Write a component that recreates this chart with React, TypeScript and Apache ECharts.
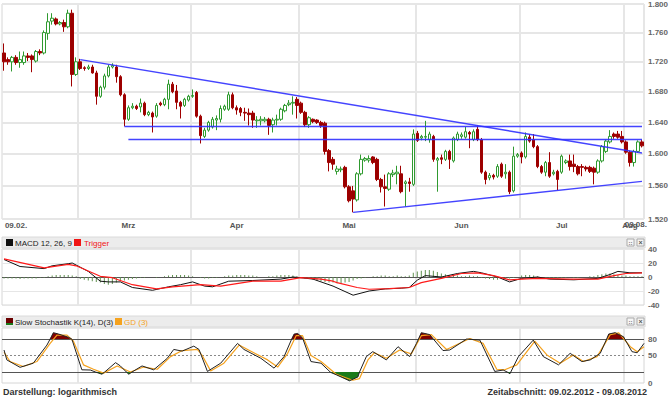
import React, { useEffect, useRef } from 'react';
import * as echarts from 'echarts';

// [open, close, low, high] per trading day, 09.02.2012 – 08.08.2012
const ohlc: number[][] = [
  [1.732,1.720,1.708,1.745],[1.723,1.720,1.716,1.726],[1.720,1.726,1.707,1.728],[1.726,1.719,1.716,1.729],
  [1.719,1.723,1.712,1.734],[1.719,1.728,1.716,1.734],[1.728,1.726,1.721,1.732],[1.728,1.723,1.706,1.730],
  [1.721,1.734,1.719,1.736],[1.734,1.732,1.729,1.737],[1.732,1.760,1.730,1.763],[1.759,1.775,1.750,1.787],
  [1.776,1.780,1.771,1.787],[1.779,1.772,1.770,1.781],[1.772,1.774,1.770,1.776],[1.774,1.768,1.761,1.778],
  [1.768,1.787,1.766,1.792],[1.787,1.703,1.687,1.792],[1.703,1.720,1.701,1.726],[1.720,1.711,1.709,1.724],
  [1.712,1.711,1.708,1.714],[1.711,1.713,1.709,1.716],[1.713,1.705,1.704,1.716],[1.705,1.674,1.663,1.708],
  [1.674,1.686,1.672,1.688],[1.686,1.701,1.683,1.704],[1.701,1.713,1.699,1.716],[1.713,1.715,1.711,1.718],
  [1.713,1.700,1.692,1.716],[1.700,1.676,1.674,1.702],[1.676,1.644,1.635,1.678],[1.644,1.659,1.642,1.662],
  [1.659,1.661,1.657,1.665],[1.661,1.658,1.656,1.663],[1.660,1.665,1.653,1.671],[1.665,1.650,1.648,1.667],
  [1.650,1.653,1.648,1.655],[1.652,1.647,1.627,1.654],[1.648,1.662,1.646,1.665],[1.665,1.663,1.661,1.667],
  [1.663,1.670,1.661,1.672],[1.670,1.690,1.657,1.696],[1.690,1.680,1.678,1.693],[1.681,1.666,1.657,1.689],
  [1.666,1.661,1.645,1.668],[1.662,1.670,1.660,1.672],[1.669,1.674,1.667,1.676],[1.674,1.675,1.672,1.683],
  [1.679,1.648,1.646,1.681],[1.648,1.623,1.613,1.650],[1.622,1.630,1.620,1.633],[1.630,1.640,1.628,1.642],
  [1.634,1.644,1.632,1.647],[1.643,1.645,1.630,1.649],[1.644,1.658,1.640,1.662],[1.657,1.661,1.655,1.663],
  [1.657,1.676,1.655,1.680],[1.676,1.659,1.657,1.679],[1.659,1.656,1.650,1.662],[1.658,1.653,1.648,1.660],
  [1.653,1.652,1.642,1.659],[1.652,1.650,1.636,1.658],[1.652,1.643,1.633,1.655],[1.642,1.643,1.633,1.648],
  [1.642,1.644,1.636,1.648],[1.642,1.644,1.640,1.647],[1.644,1.636,1.624,1.646],[1.637,1.643,1.627,1.646],
  [1.643,1.644,1.636,1.650],[1.644,1.657,1.642,1.659],[1.655,1.662,1.653,1.664],[1.663,1.665,1.661,1.669],
  [1.665,1.666,1.650,1.674],[1.670,1.662,1.645,1.673],[1.665,1.653,1.651,1.667],[1.653,1.637,1.634,1.655],
  [1.637,1.646,1.633,1.648],[1.644,1.641,1.639,1.645],[1.643,1.640,1.638,1.644],[1.640,1.636,1.633,1.642],
  [1.639,1.603,1.599,1.641],[1.604,1.589,1.578,1.606],[1.593,1.587,1.580,1.596],[1.578,1.581,1.574,1.585],
  [1.580,1.581,1.577,1.584],[1.583,1.559,1.557,1.585],[1.559,1.542,1.540,1.561],[1.554,1.544,1.528,1.560],
  [1.543,1.575,1.541,1.577],[1.575,1.593,1.573,1.599],[1.592,1.594,1.590,1.596],[1.592,1.594,1.589,1.598],
  [1.596,1.589,1.587,1.597],[1.593,1.568,1.566,1.595],[1.568,1.559,1.552,1.570],[1.559,1.557,1.535,1.574],
  [1.556,1.575,1.554,1.577],[1.574,1.576,1.571,1.580],[1.575,1.577,1.562,1.585],[1.575,1.553,1.551,1.585],
  [1.563,1.565,1.535,1.567],[1.565,1.563,1.553,1.570],[1.562,1.625,1.560,1.631],[1.626,1.617,1.615,1.629],
  [1.620,1.622,1.617,1.624],[1.621,1.622,1.616,1.642],[1.618,1.625,1.614,1.628],[1.622,1.593,1.590,1.624],
  [1.592,1.594,1.553,1.596],[1.595,1.593,1.587,1.599],[1.593,1.603,1.591,1.605],[1.603,1.593,1.581,1.605],
  [1.591,1.620,1.589,1.622],[1.618,1.625,1.616,1.628],[1.622,1.624,1.619,1.627],[1.621,1.628,1.619,1.634],
  [1.627,1.625,1.607,1.629],[1.618,1.628,1.616,1.631],[1.631,1.618,1.616,1.636],[1.618,1.577,1.575,1.620],
  [1.577,1.568,1.562,1.579],[1.570,1.573,1.567,1.576],[1.573,1.571,1.568,1.575],[1.572,1.584,1.570,1.587],
  [1.587,1.572,1.570,1.589],[1.575,1.577,1.569,1.587],[1.577,1.553,1.550,1.579],[1.554,1.597,1.552,1.609],
  [1.597,1.599,1.595,1.601],[1.601,1.596,1.588,1.603],[1.596,1.622,1.594,1.627],[1.621,1.616,1.614,1.625],
  [1.618,1.609,1.607,1.625],[1.609,1.584,1.582,1.611],[1.584,1.577,1.575,1.586],[1.577,1.589,1.572,1.591],
  [1.589,1.572,1.570,1.602],[1.575,1.577,1.573,1.580],[1.578,1.568,1.555,1.580],[1.577,1.597,1.575,1.599],
  [1.589,1.591,1.587,1.593],[1.591,1.584,1.579,1.599],[1.587,1.584,1.577,1.599],[1.584,1.575,1.573,1.586],
  [1.584,1.583,1.572,1.587],[1.583,1.581,1.578,1.585],[1.583,1.578,1.576,1.585],[1.582,1.577,1.562,1.584],
  [1.577,1.591,1.575,1.593],[1.591,1.609,1.589,1.611],[1.603,1.616,1.601,1.618],[1.615,1.622,1.613,1.630],
  [1.625,1.622,1.619,1.627],[1.625,1.621,1.619,1.629],[1.622,1.615,1.613,1.629],[1.615,1.602,1.600,1.617],
  [1.602,1.589,1.584,1.604],[1.589,1.603,1.584,1.605],[1.603,1.615,1.601,1.617],[1.615,1.610,1.608,1.618],
];

const priceTicks = [1.52, 1.56, 1.6, 1.64, 1.68, 1.72, 1.76, 1.8];
const monthStartIdx = [19, 47, 74, 103, 129, 155];
const xLabelIdx = [3, 31, 58, 86, 114, 139, 156];
const xLabelText = ['09.02.', 'Mrz', 'Apr', 'Mai', 'Jun', 'Jul', 'Aug'];
const endDateLabel = '09.08.';

// trend lines: [[barIndex, price], [barIndex, price]]
const trendLines = [
  [[19, 1.723], [159, 1.601]],
  [[30, 1.6344], [159, 1.6344]],
  [[31, 1.6182], [159, 1.6182]],
  [[87, 1.528], [159, 1.5657]],
];

// MACD keypoints [barIndex, value]
const macd = [
  [0,25],[4,15],[10,12],[12,16],[16,19],[17,20],[21,8],[24,-6],[26,-7],[29,-7],[32,-15],[37,-19],
  [41,-14],[44,-11],[47,-7],[50,-13],[52,-14],[56,-6],[62,-5],[69,-3],[72,0],[74,-1],[77,-3],[82,-13],
  [87,-26],[91,-20],[95,-17],[99,-16],[101,-15],[103,-4.5],[105,2],[109,0],[113,5],[117,8],[119,6],
  [123,0],[126,-7],[129,-2],[133,0],[136,-3],[142,-4],[148,-2],[151,3.5],[153,8],[156,6],[159,6],
];
const trigger = [
  [0,26],[10,13],[16,18],[18,16],[24,1],[27,-1],[32,-11],[38,-17],[42,-14],[49,-11],[54,-13],[62,-6],
  [69,-6],[74,-1],[79,-3],[82,-6],[83,-8],[88,-15],[91,-17.5],[96,-16.5],[101,-15],[104,-8],[109,-2],
  [114,5],[118,6],[122,2],[126,-4],[129,-3],[133,-2],[141,-3],[148,-3],[152,2],[155,5],[159,6],
];
const histogram = [
  -2,-2,-2,-2,-3,-2,-2,-2,-2,-1,-1,
  1,2,3,3,3,3,2,1,
  -3,-4,-5,-6,-7,-8,-10,-11,-10,
  -8,-6,-5,-4,-3,-2,
  -1,-1,0,0,-1,0,1,
  2,3,3,3,3,2,1,
  0,-1,-2,-2,-1,-1,0,1,
  2,2,3,3,3,2,2,1,
  0,0,1,1,2,
  3,3,3,2,1,
  -1,-2,-3,-4,-5,-6,-7,-8,-8,
  -9,-9,-8,-7,-5,-3,-2,-1,
  0,1,1,2,2,1,1,2,1,1,2,
  6,8,9,10,10,9,7,5,4,3,2,
  2,1,1,2,1,1,
  -1,-2,-3,-4,-4,-3,-3,-2,-1,0,
  2,3,3,2,1,
  0,-1,-1,-2,-2,-1,-1,0,-1,-1,0,0,1,1,
  3,4,5,5,4,3,
  2,2,1,1,1,1,
];

// Slow stochastic keypoints [barIndex, value]
const stochK = [
  [0,60],[0.7,42],[4,28.5],[7.3,36],[10.7,69],[11.5,80],[12.3,91.5],[13.6,89],[16.1,83],[16.9,80],
  [19.4,24],[21.5,23.6],[22.8,20],[24.4,16],[25.1,20],[27.8,37],[29,31],[30.5,20],[31.1,16],[31.9,20],
  [34.4,31],[37.3,24],[40.7,45],[42.3,61],[44.4,58],[47.3,67],[48.6,61],[50.7,21],[54,36],[58.2,72],
  [59.8,61],[64,45],[67.3,27],[69.8,48],[71.7,80],[72.3,89],[73.2,90],[74.4,82],[74.5,80],[76.5,39],
  [79,36],[81.3,20],[81.5,19],[82.8,15],[86.1,4],[88.2,11],[88.6,20],[90.3,48],[91.9,57],[95.3,42],
  [98.2,66],[101.1,48],[102.8,72],[103.3,80],[104,91.5],[106.1,88],[107,80],[109.4,59],[111.1,60],
  [115.3,80],[118.6,78],[122.3,21],[124.4,23.6],[125.4,20],[126.1,17],[126.3,20],[128.2,48],[131.9,78],
  [134.4,48],[138.2,33],[141.1,54],[144,39],[146.1,42],[148.6,54],[150.2,80],[150.7,89],[152.3,91.5],
  [154.4,84],[154.7,80],[156.5,57],[157.8,55],[159.5,72],
];
const stochD = [
  [0,56],[1.5,39],[4.8,30],[8.2,39],[11.5,72],[13.2,87],[15.7,87],[17.3,76],[19.8,33],[22.3,25],
  [24.8,18],[28.2,31],[31.5,20],[34.8,29],[38.2,25],[41.5,48],[44.4,59],[48.2,61],[49.4,50],[51.5,22],
  [54.8,36],[58.6,69],[60.7,61],[65.7,42],[68.2,29],[70.7,54],[72.8,86],[74.4,86],[76.5,50],[79,39],
  [82.8,16],[86.9,5],[88.6,8],[90.7,42],[92.3,55],[95.3,45],[98.6,60],[101.5,53],[104,86],[106.5,88],
  [110.3,61],[116.1,81],[119.4,72],[122.8,25],[124.8,24],[127.8,33],[132.3,76],[135.3,51],[138.6,36],
  [141.9,51],[144.4,39],[147.8,48],[151.1,88],[153.2,91],[156.1,66],[157.8,57],[159.5,66],
];
const stochLevels = [20, 50, 80];
const stochAxisLabels = [0, 50, 80];

const FONT = "'Liberation Sans', Arial, sans-serif";

export default function App() {
  const ref = useRef<HTMLDivElement>(null);

  useEffect(() => {
    if (!ref.current) return;
    const chart = echarts.init(ref.current, undefined, { renderer: 'svg' });
    const axisText = { color: '#666', fontSize: 8, fontWeight: 'bold' as const, fontFamily: FONT };
    const nBars = ohlc.length;
    const cats = ohlc.map((_, i) => String(i));
    const monthLines = monthStartIdx.map((i) => ({ xAxis: i - 0.5 }));
    const gridBorder = { show: true, borderColor: '#d6d6d6', borderWidth: 1, backgroundColor: '#fff' };

    const option: any = {
      animation: false,
      backgroundColor: '#ffffff',
      grid: [
        { left: 2, top: 4, width: 642, height: 215, ...gridBorder },
        { left: 2, top: 249, width: 642, height: 56, ...gridBorder },
        { left: 2, top: 328, width: 642, height: 55, ...gridBorder },
      ],
      xAxis: [
        {
          type: 'category', gridIndex: 0, data: cats, boundaryGap: true,
          axisLine: { show: false }, axisTick: { show: false },
          axisLabel: {
            interval: (i: number) => xLabelIdx.includes(i),
            formatter: (_v: string, i: number) => xLabelText[xLabelIdx.indexOf(i)] ?? '',
            margin: 2, ...axisText, color: '#555',
          },
          splitLine: { show: true, interval: (i: number) => monthStartIdx.includes(i), lineStyle: { color: '#e6e6e6', width: 2 } },
        },
        { type: 'value', gridIndex: 1, min: -0.5, max: nBars - 0.5, show: false },
        { type: 'value', gridIndex: 2, min: -0.5, max: nBars - 0.5, show: false },
      ],
      yAxis: [
        { type: 'log', gridIndex: 0, logBase: 10, min: priceTicks[0], max: priceTicks[priceTicks.length - 1], show: false },
        {
          type: 'value', gridIndex: 1, min: -40, max: 40, interval: 20, position: 'right',
          axisLine: { show: false }, axisTick: { show: false },
          axisLabel: { margin: 4, ...axisText },
          splitLine: { show: true, lineStyle: { color: '#e6e6e6', width: 1 } },
        },
        {
          type: 'value', gridIndex: 2, min: 0, max: 100, interval: 10, position: 'right',
          axisLine: { show: false }, axisTick: { show: false },
          axisLabel: { margin: 4, ...axisText, formatter: (v: number) => (stochAxisLabels.includes(v) ? String(v) : '') },
          splitLine: { show: false },
        },
      ],
      series: [
        {
          type: 'line', xAxisIndex: 0, yAxisIndex: 0, data: [], silent: true,
          markLine: {
            z: 1, silent: true, symbol: ['none', 'none'], animation: false,
            lineStyle: { color: '#e6e6e6', width: 2, type: 'solid' },
            label: { show: true, position: 'end', distance: 4, formatter: (p: any) => Number(p.value).toFixed(3), ...axisText },
            emphasis: { disabled: true },
            data: priceTicks.map((p) => ({ yAxis: p })),
          },
        },
        {
          type: 'candlestick', xAxisIndex: 0, yAxisIndex: 0, data: ohlc, barWidth: 3, z: 3,
          itemStyle: { color: '#ffffff', color0: '#990000', borderColor: '#2f9a2f', borderColor0: '#a00000', borderWidth: 1 },
        },
        {
          type: 'line', xAxisIndex: 0, yAxisIndex: 0, data: [], silent: true,
          markLine: {
            z: 6, silent: true, symbol: ['none', 'none'], animation: false,
            lineStyle: { color: '#3030ff', width: 1.4, type: 'solid', opacity: 0.9 },
            label: { show: false },
            emphasis: { disabled: true },
            data: trendLines.map(([a, b]) => [{ coord: a }, { coord: b }]),
          },
        },
        {
          type: 'bar', xAxisIndex: 1, yAxisIndex: 1, data: histogram.map((v, i) => [i, v]),
          barWidth: 1, itemStyle: { color: '#5f9150' }, silent: true,
          markLine: {
            z: 1, silent: true, symbol: ['none', 'none'], animation: false, label: { show: false },
            emphasis: { disabled: true },
            data: [
              ...monthLines.map((m) => ({ ...m, lineStyle: { color: '#e6e6e6', width: 2, type: 'solid' } })),
              { yAxis: 0, lineStyle: { color: '#555', width: 1, type: 'solid' } },
            ],
          },
        },
        { type: 'line', xAxisIndex: 1, yAxisIndex: 1, data: macd, symbol: 'none', silent: true, lineStyle: { color: '#111', width: 1 } },
        { type: 'line', xAxisIndex: 1, yAxisIndex: 1, data: trigger, symbol: 'none', silent: true, lineStyle: { color: '#ff1a1a', width: 1.2 } },
        {
          type: 'line', xAxisIndex: 2, yAxisIndex: 2, silent: true, symbol: 'none',
          data: stochK.map(([x, v]) => [x, Math.max(v, 80)]),
          lineStyle: { width: 0, opacity: 0 },
          areaStyle: { color: '#800000', opacity: 1, origin: 80 },
          markLine: {
            z: 1, silent: true, symbol: ['none', 'none'], animation: false, label: { show: false },
            emphasis: { disabled: true },
            data: [
              ...monthLines.map((m) => ({ ...m, lineStyle: { color: '#e6e6e6', width: 2, type: 'solid' } })),
              ...stochLevels.map((l) => ({
                yAxis: l,
                lineStyle: l === 50 ? { color: '#888', width: 1, type: [2, 2] } : { color: '#555', width: 1, type: 'solid' },
              })),
            ],
          },
        },
        {
          type: 'line', xAxisIndex: 2, yAxisIndex: 2, silent: true, symbol: 'none',
          data: stochK.map(([x, v]) => [x, Math.min(v, 20)]),
          lineStyle: { width: 0, opacity: 0 },
          areaStyle: { color: '#1a7a1a', opacity: 1, origin: 20 },
        },
        { type: 'line', xAxisIndex: 2, yAxisIndex: 2, data: stochD, symbol: 'none', silent: true, lineStyle: { color: '#f5a21e', width: 1.2 } },
        { type: 'line', xAxisIndex: 2, yAxisIndex: 2, data: stochK, symbol: 'none', silent: true, lineStyle: { color: '#222', width: 1 } },
      ],
      graphic: [
        // header bands
        { type: 'rect', shape: { x: 2, y: 237, width: 643, height: 11 }, style: { fill: '#ececec', stroke: '#dadada', lineWidth: 1 } },
        { type: 'rect', shape: { x: 2, y: 316, width: 643, height: 11 }, style: { fill: '#ececec', stroke: '#dadada', lineWidth: 1 } },
        // MACD legend
        { type: 'rect', shape: { x: 6, y: 239, width: 7, height: 7 }, style: { fill: '#111' } },
        { type: 'text', style: { x: 15, y: 243, text: 'MACD 12, 26, 9', fill: '#222', font: `8px ${FONT}`, verticalAlign: 'middle' } },
        { type: 'rect', shape: { x: 74, y: 239, width: 7, height: 7 }, style: { fill: '#f01515' } },
        { type: 'text', style: { x: 84, y: 243, text: 'Trigger', fill: '#f01515', font: `8px ${FONT}`, verticalAlign: 'middle' } },
        // Stochastic legend
        { type: 'rect', shape: { x: 6, y: 318, width: 7, height: 7 }, style: { fill: '#6a0000' } },
        { type: 'rect', shape: { x: 6, y: 323, width: 7, height: 2 }, style: { fill: '#1a7a1a' } },
        { type: 'text', style: { x: 15, y: 322, text: 'Slow Stochastik K(14), D(3)', fill: '#222', font: `8px ${FONT}`, verticalAlign: 'middle' } },
        { type: 'rect', shape: { x: 115, y: 318, width: 7, height: 7 }, style: { fill: '#f5a21e' } },
        { type: 'text', style: { x: 124, y: 322, text: 'GD (3)', fill: '#f5a21e', font: `8px ${FONT}`, verticalAlign: 'middle' } },
        // panel buttons
        ...[239, 318].flatMap((y) => [
          { type: 'rect', shape: { x: 627, y, width: 7, height: 7 }, style: { fill: '#f6f6f6', stroke: '#aaa', lineWidth: 1 } },
          { type: 'text', style: { x: 630.5, y: y + 3.5, text: '::', fill: '#555', font: `bold 6px ${FONT}`, align: 'center', verticalAlign: 'middle' } },
          { type: 'rect', shape: { x: 637, y, width: 7, height: 7 }, style: { fill: '#f6f6f6', stroke: '#aaa', lineWidth: 1 } },
          { type: 'text', style: { x: 640.5, y: y + 3.5, text: '×', fill: '#555', font: `bold 7px ${FONT}`, align: 'center', verticalAlign: 'middle' } },
        ]),
        // end date of x axis
        { type: 'text', style: { x: 647, y: 224, text: endDateLabel, fill: '#555', font: `bold 8px ${FONT}`, align: 'right', verticalAlign: 'middle' } },
        // footer
        { type: 'text', style: { x: 3, y: 392, text: 'Darstellung: logarithmisch', fill: '#333', font: `bold 9px ${FONT}`, verticalAlign: 'middle' } },
        { type: 'text', style: { x: 647, y: 392, text: 'Zeitabschnitt: 09.02.2012 - 09.08.2012', fill: '#333', font: `bold 9px ${FONT}`, align: 'right', verticalAlign: 'middle' } },
      ],
    };

    chart.setOption(option);
    return () => chart.dispose();
  }, []);

  return <div ref={ref} style={{ position: 'absolute', left: 0, top: 0, width: 670, height: 397 }} />;
}
